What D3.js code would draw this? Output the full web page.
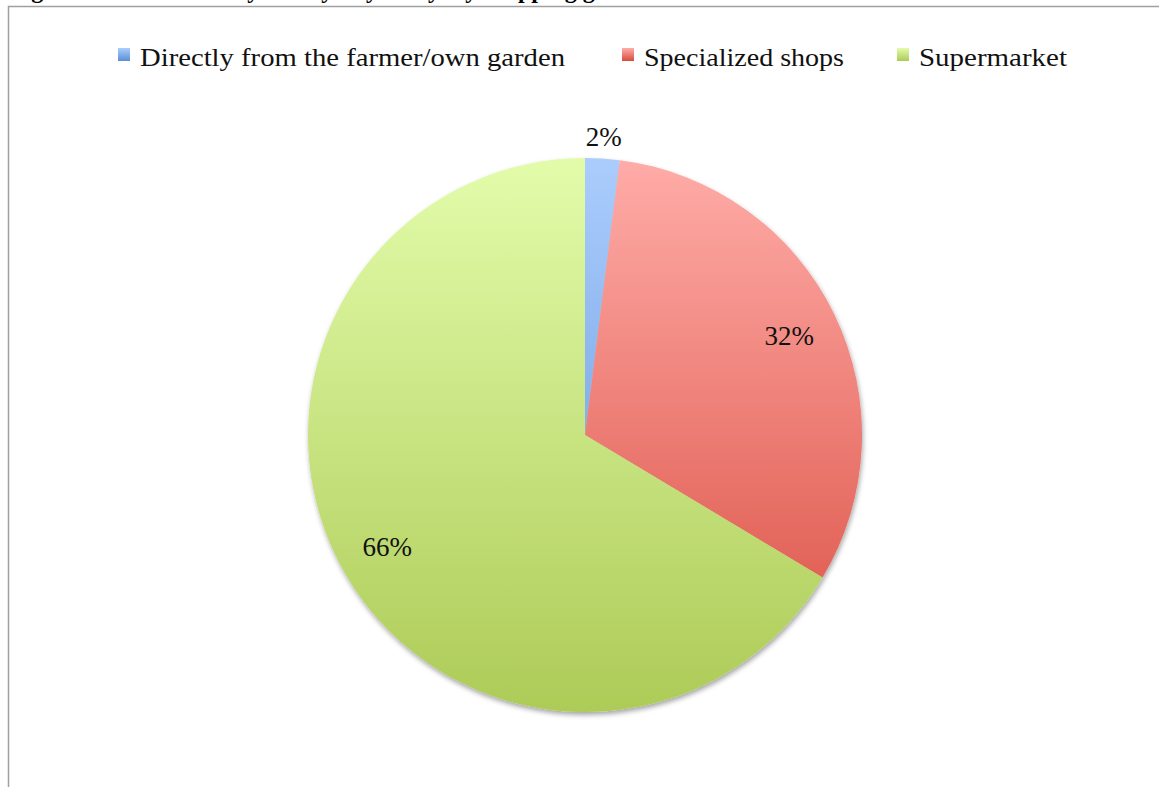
<!DOCTYPE html>
<html>
<head>
<meta charset="utf-8">
<script src="https://cdn.jsdelivr.net/npm/d3@7"></script>
<style>
  body { margin: 0; background: #fff; }
  svg { display: block; }
  text { font-family: "Liberation Serif", "DejaVu Serif", serif; }
</style>
</head>
<body>
<div id="chart"></div>
<script>
// data
const categories = ["Directly from the farmer/own garden", "Specialized shops", "Supermarket"];
const shares = [2.0, 31.6, 66.4];
const labels = ["2%", "32%", "66%"];
const lightColors = ["#abcdfd", "#ffaca8", "#e3fcab"];
const darkColors = ["#5a8fd6", "#d94b3e", "#adcb57"];

const width = 1159, height = 787;
const cx = 585, cy = 435, radius = 277;

const svg = d3.select("#chart")
    .append("svg")
    .attr("width", width)
    .attr("height", height);

const defs = svg.append("defs");

// vertical gradients spanning the whole pie (in the pie group's coordinates)
categories.forEach(function(c, i) {
    const g = defs.append("linearGradient")
        .attr("id", "grad" + i)
        .attr("gradientUnits", "userSpaceOnUse")
        .attr("x1", 0).attr("x2", 0)
        .attr("y1", -radius).attr("y2", radius);
    g.append("stop").attr("offset", "0%").attr("stop-color", lightColors[i]);
    g.append("stop").attr("offset", "100%").attr("stop-color", darkColors[i]);
});

// swatch gradients
categories.forEach(function(c, i) {
    const g = defs.append("linearGradient")
        .attr("id", "sw" + i)
        .attr("x1", 0).attr("x2", 0).attr("y1", 0).attr("y2", 1);
    g.append("stop").attr("offset", "0%").attr("stop-color", lightColors[i]);
    g.append("stop").attr("offset", "100%").attr("stop-color", darkColors[i]);
});

const shadow = defs.append("filter")
    .attr("id", "shadow")
    .attr("x", "-10%").attr("y", "-10%")
    .attr("width", "120%").attr("height", "120%");
shadow.append("feDropShadow")
    .attr("dx", 1).attr("dy", 3)
    .attr("stdDeviation", 2.5)
    .attr("flood-color", "#000")
    .attr("flood-opacity", 0.35);

// frame (cut by the window)
svg.append("rect")
    .attr("x", 8.5).attr("y", 6.5)
    .attr("width", 1300).attr("height", 900)
    .attr("fill", "none")
    .attr("stroke", "#a0a0a0")
    .attr("stroke-width", 1.5);

// title, almost entirely above the window
svg.append("text")
    .attr("x", 10)
    .attr("y", -2.5)
    .attr("font-weight", "bold")
    .attr("font-size", 24)
    .attr("fill", "#000")
    .text("Figure 9: Where do they mostly buy everyday shopping goods");

// legend
const legend = svg.append("g").attr("transform", "translate(0,57)");
const fontSize = 25;
const itemX = [118, 622, 897];
const textW = [425, 200, 148];
categories.forEach(function(c, i) {
    const item = legend.append("g").attr("transform", `translate(${itemX[i]},0)`);
    item.append("rect")
        .attr("x", 0).attr("y", -9)
        .attr("width", 12).attr("height", 13)
        .attr("fill", "url(#sw" + i + ")");
    item.append("text")
        .attr("x", 22)
        .attr("y", 9)
        .attr("font-size", fontSize)
        .attr("textLength", textW[i])
        .attr("lengthAdjust", "spacingAndGlyphs")
        .attr("fill", "#111")
        .text(c);
});

// pie
const pie = d3.pie().sort(null).value(d => d);
const arcs = pie(shares);
const arc = d3.arc().innerRadius(0).outerRadius(radius);
const labelArcIn = d3.arc().innerRadius(radius * 0.82).outerRadius(radius * 0.82);
const labelArcOut = d3.arc().innerRadius(radius + 22).outerRadius(radius + 22);

const pieG = svg.append("g").attr("transform", `translate(${cx},${cy})`);

pieG.append("g")
    .attr("filter", "url(#shadow)")
    .selectAll("path")
    .data(arcs)
    .enter().append("path")
    .attr("d", arc)
    .attr("fill", (d, i) => "url(#grad" + i + ")");

pieG.selectAll(".lbl")
    .data(arcs)
    .enter().append("text")
    .attr("class", "lbl")
    .attr("transform", function(d) {
        const p = (d.endAngle - d.startAngle) < 0.3 ? labelArcOut.centroid(d) : labelArcIn.centroid(d);
        return `translate(${p[0]},${p[1]})`;
    })
    .attr("text-anchor", "middle")
    .attr("dy", "0.35em")
    .attr("font-size", 27)
    .attr("fill", "#111")
    .text((d, i) => labels[i]);
</script>
</body>
</html>
